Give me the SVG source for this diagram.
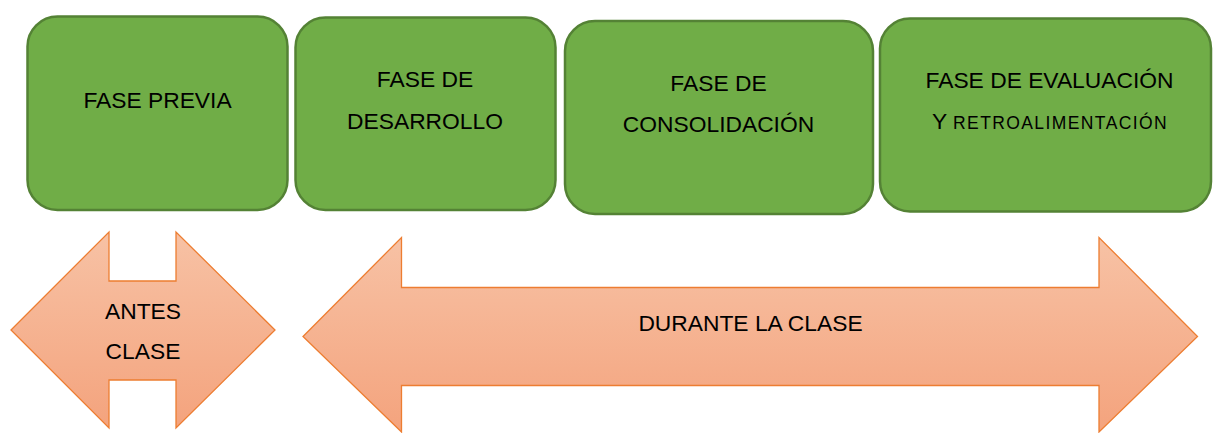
<svg xmlns="http://www.w3.org/2000/svg" width="1213" height="433" viewBox="0 0 1213 433">
<defs>
<linearGradient id="og" x1="0" y1="0" x2="0" y2="1">
<stop offset="0" stop-color="#f7c2a5"/>
<stop offset="1" stop-color="#f4a37d"/>
</linearGradient>
<style>
.box{fill:#70ad47;stroke:#548235;stroke-width:2.5}
.arr{fill:url(#og);stroke:#ed7d31;stroke-width:1.3;stroke-linejoin:miter}
text{font-family:"Liberation Sans",Arial,sans-serif;font-size:22.8px;fill:#000;text-anchor:middle}
.sc{font-size:17.5px;letter-spacing:1.4px}
</style>
</defs>
<g id="fase-previa">
<rect class="box" x="27.5" y="16.5" width="260" height="193.5" rx="30" ry="30"/>
<text x="157.5" y="108">FASE PREVIA</text>
</g>
<g id="fase-desarrollo">
<rect class="box" x="295.5" y="17.5" width="260" height="192.5" rx="30" ry="30"/>
<text x="425" y="87">FASE DE</text>
<text x="425" y="129">DESARROLLO</text>
</g>
<g id="fase-consolidacion">
<rect class="box" x="565" y="21" width="308" height="193" rx="30" ry="30"/>
<text x="718.5" y="91">FASE DE</text>
<text x="718.5" y="132">CONSOLIDACIÓN</text>
</g>
<g id="fase-evaluacion">
<rect class="box" x="880" y="18.5" width="331" height="193" rx="30" ry="30"/>
<text x="1049.5" y="88">FASE DE EVALUACIÓN</text>
<text x="1050" y="129">Y <tspan class="sc">RETROALIMENTACIÓN</tspan></text>
</g>
<g id="connectors">
<g id="antes-clase">
<polygon class="arr" points="11,330 109,232 109,281 176,281 176,232 275,330 176,428 176,380 109,380 109,428"/>
<text x="143" y="319">ANTES</text>
<text x="143" y="359">CLASE</text>
</g>
<g id="durante-clase">
<polygon class="arr" points="303,336.5 401.5,237.5 401.5,287.5 1099,287.5 1099,237.5 1197.5,336.5 1099,432 1099,385.5 401.5,385.5 401.5,432"/>
<text x="750.5" y="331">DURANTE LA CLASE</text>
</g>
</g>
</svg>
